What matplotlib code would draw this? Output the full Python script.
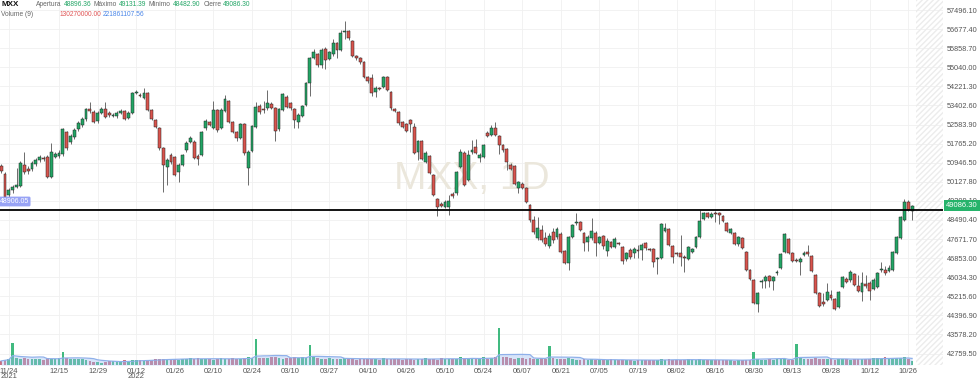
import numpy as np
import pandas as pd
import matplotlib
matplotlib.use("Agg")
import matplotlib.pyplot as plt

plt.rcParams['font.family'] = ['Liberation Sans', 'DejaVu Sans']

# velas diarias MXX
opens = [
    50807, 50463, 49563, 49777, 49906, 49949, 50850, 50678, 50678, 50892,
    51064, 51150, 51193, 50335, 51193, 51236, 51321, 52265, 51836, 52051,
    52394, 52566, 52823, 53252, 53123, 52737, 53080, 53252, 53080, 52952,
    52952, 53080, 53166, 52866, 53080, 53938, 53852, 53724, 53938, 53209,
    52780, 52437, 51579, 50764, 51278, 51193, 50549, 50850, 51493, 51836,
    51836, 51236, 51278, 52437, 52694, 52437, 53209, 52437, 53166, 53595,
    52694, 52265, 52008, 52608, 50721, 51450, 52480, 53381, 53252, 53295,
    53467, 53295, 52394, 53209, 53767, 53509, 53252, 52694, 52952, 53424,
    54367, 55440, 55611, 55140, 55826, 55397, 55611, 56083, 55783, 56555,
    56598, 56169, 55525, 55440, 55268, 54625, 54582, 53981, 54153, 54196,
    54625, 53981, 53252, 53123, 52694, 52608, 52780, 52480, 51407, 51879,
    50978, 51236, 50421, 49391, 49176, 49048, 49048, 49606, 49648, 50764,
    51364, 50206, 51407, 51622, 51150, 51193, 52222, 52137, 52437, 52094,
    51708, 51536, 50850, 50807, 49863, 50035, 49863, 49133, 48490, 47718,
    48061, 47718, 47375, 47975, 47761, 47889, 47160, 46645, 47761, 48362,
    48404, 47932, 47546, 47718, 47932, 47503, 47804, 47160, 47546, 47332,
    47503, 47332, 46817, 47203, 47074, 47203, 47203, 47503, 47246, 47246,
    46817, 46860, 48018, 48104, 47375, 47074, 47074, 46903, 46817, 47117,
    47332, 47761, 48533, 48791, 48619, 48791, 48791, 48662, 48362, 47932,
    47932, 47461, 47718, 47117, 46345, 45916, 44886, 45830, 45873, 46088,
    45873, 46216, 46431, 47117, 47675, 47074, 46774, 46688, 46989, 47117,
    46946, 46131, 45358, 44972, 45058, 45273, 45101, 44758, 45616, 45959,
    45916, 46173, 45659, 45401, 45745, 45788, 45530, 45616, 46345, 46345,
    46302, 46345, 47074, 47718, 48490, 49262, 48896.36,
]
highs = [
    50892, 50549, 49863, 49992, 50721, 51021, 51407, 50807, 51021, 51150,
    51278, 51236, 51278, 51793, 51407, 51493, 52437, 52308, 52180, 52437,
    52737, 52909, 53295, 53552, 53209, 53166, 53338, 53552, 53166, 53080,
    53166, 53252, 53209, 53166, 53981, 54067, 53938, 54153, 53981, 53252,
    52823, 52480, 51622, 51150, 51364, 51236, 50935, 51321, 51879, 52094,
    51922, 51321, 52308, 52823, 52737, 53595, 53252, 53295, 53853, 53638,
    52737, 52308, 52651, 52651, 51493, 52566, 53552, 53467, 53595, 54067,
    53552, 53338, 53295, 53938, 53853, 53552, 53295, 53080, 53424, 54410,
    55483, 55826, 55654, 55869, 55912, 55740, 56255, 56126, 56641, 57027,
    56641, 56212, 55568, 55483, 55311, 54668, 54754, 54239, 54196, 54668,
    54668, 54024, 53295, 53166, 52737, 52651, 52823, 52651, 51922, 51922,
    51450, 51278, 50463, 49434, 49262, 49348, 49563, 49691, 50592, 51536,
    51450, 51493, 51922, 51965, 51364, 51750, 52308, 52566, 52694, 52137,
    51750, 51579, 50935, 50850, 50163, 50120, 49906, 49176, 48662, 48619,
    48275, 47975, 47932, 48147, 48190, 47975, 47203, 47804, 48319, 48791,
    48447, 47975, 47846, 48576, 48018, 47804, 47846, 47718, 47589, 47761,
    47546, 47375, 47117, 47289, 47332, 47418, 47503, 47546, 47289, 47289,
    46903, 48362, 48362, 48147, 47418, 47117, 47846, 46989, 47375, 47289,
    47804, 48919, 48833, 48833, 48833, 48876, 48833, 48705, 48404, 48147,
    47975, 47804, 47761, 47160, 46388, 45959, 45401, 45959, 46131, 46131,
    46088, 46345, 47074, 47932, 47718, 47117, 46860, 46903, 47160, 47418,
    46989, 46173, 45401, 45358, 45788, 45487, 45144, 45444, 46088, 46045,
    46345, 46216, 46131, 46259, 46131, 45873, 46002, 46259, 46688, 46517,
    46560, 47160, 47804, 48662, 49391, 49348, 49131.39,
]
lows = [
    50506, 49391, 49434, 49648, 49863, 49906, 50463, 50463, 50592, 50807,
    50978, 51021, 50292, 50292, 51150, 51150, 51236, 51493, 51750, 51965,
    52308, 52480, 52737, 53080, 52651, 52651, 53037, 52866, 52909, 52909,
    52866, 53037, 52780, 52823, 53037, 53895, 53767, 53681, 53166, 52780,
    52437, 51493, 49691, 49992, 50892, 50378, 50120, 50807, 51407, 51793,
    51107, 50850, 51236, 52351, 52523, 52394, 52265, 52394, 53123, 52651,
    52222, 51879, 51965, 51278, 49992, 51407, 52437, 53037, 53080, 53209,
    53252, 51879, 52308, 53166, 53295, 53209, 52437, 52437, 52909, 53381,
    53810, 55397, 55054, 55011, 54968, 55354, 55525, 55440, 55740, 56255,
    56212, 55483, 55354, 55182, 54582, 54367, 53810, 53767, 54067, 54153,
    54024, 53209, 53123, 52566, 52437, 52265, 52265, 51321, 51064, 51064,
    50935, 50463, 49520, 48662, 49048, 49005, 48705, 49434, 49563, 50721,
    49949, 50163, 51321, 51321, 50978, 51150, 52051, 52094, 52094, 51321,
    51407, 50635, 50635, 49992, 49648, 49820, 49219, 48404, 47889, 47632,
    47546, 47375, 47289, 47503, 47675, 47074, 46602, 46345, 47718, 48275,
    48018, 47160, 47160, 47632, 46946, 47461, 47246, 46946, 47289, 47289,
    47418, 46602, 46731, 46817, 46860, 46860, 46774, 47203, 47160, 46474,
    46173, 46817, 47975, 47375, 46645, 46946, 46517, 46259, 46774, 47074,
    47289, 47718, 48490, 48576, 48576, 48404, 48319, 48404, 47975, 47889,
    47418, 47375, 47246, 46302, 45916, 44886, 44543, 45573, 45573, 45616,
    45487, 46131, 46388, 47074, 47031, 46688, 46688, 46131, 46946, 46946,
    46259, 45316, 44758, 44800, 45015, 45058, 44629, 44715, 45573, 45788,
    45830, 45659, 45401, 45015, 45573, 45058, 45487, 45573, 46259, 46131,
    46259, 46302, 47031, 47675, 48447, 48876, 48482.90,
]
closes = [
    50592, 49477, 49777, 49906, 49992, 50935, 50549, 50592, 50935, 51064,
    51193, 51107, 50335, 51407, 51321, 51364, 52394, 51579, 52094, 52351,
    52651, 52823, 53252, 53166, 52694, 53080, 53252, 52909, 52995, 52995,
    53080, 53166, 52823, 53080, 53938, 53981, 53810, 53938, 53209, 52823,
    52480, 51579, 50850, 51064, 50978, 50421, 50850, 51278, 51793, 52008,
    51150, 51107, 52265, 52737, 52566, 53209, 52351, 53209, 53681, 52694,
    52265, 52008, 52608, 51364, 51407, 52523, 53338, 53123, 53209, 53509,
    53295, 52308, 53252, 53895, 53338, 53295, 52780, 52995, 53381, 54367,
    55440, 55697, 55140, 55783, 55354, 55697, 56083, 55783, 56512, 56598,
    56298, 55525, 55440, 55268, 54625, 54453, 53938, 54153, 54110, 54625,
    54067, 53295, 53166, 52651, 52480, 52308, 52608, 51364, 51879, 51107,
    51364, 50506, 49563, 49048, 49091, 49262, 49305, 49520, 50549, 51407,
    49992, 51278, 51493, 51364, 51278, 51708, 52094, 52437, 52137, 51708,
    51493, 50978, 50678, 50035, 50120, 49863, 49262, 48490, 47975, 48147,
    47632, 47461, 47804, 47632, 48104, 47117, 46645, 47761, 48275, 48404,
    48061, 47503, 47761, 48018, 47503, 47761, 47375, 47589, 47332, 47675,
    47461, 46731, 47074, 46903, 47246, 47160, 47418, 47289, 47203, 46688,
    46860, 48319, 48147, 47418, 46903, 47031, 46903, 46860, 47332, 47246,
    47761, 48447, 48791, 48619, 48748, 48748, 48705, 48447, 48018, 48104,
    47461, 47761, 47289, 46345, 45959, 44929, 45358, 45873, 46045, 45873,
    46045, 46259, 47031, 47889, 47074, 46731, 46731, 46817, 47074, 47031,
    46302, 45358, 44800, 44886, 45401, 45144, 44672, 45401, 46045, 45830,
    46259, 45702, 45444, 45788, 45659, 45444, 45916, 46216, 46360, 46216,
    46431, 47117, 47761, 48619, 49262, 48919, 49086.30,
]
# volumen en millones
volumes = [
    150, 200, 240, 800, 260, 230, 250, 220, 240, 210,
    230, 200, 260, 240, 220, 250, 470, 260, 240, 230,
    210, 230, 190, 150, 120, 100, 90, 110, 130, 140,
    150, 130, 170, 160, 180, 170, 180, 160, 190, 200,
    210, 220, 240, 230, 220, 210, 200, 230, 240, 250,
    220, 260, 240, 210, 230, 200, 220, 260, 230, 210,
    250, 230, 240, 260, 290, 270, 980, 250, 270, 260,
    280, 300, 260, 240, 270, 250, 290, 260, 280, 250,
    740, 280, 260, 240, 230, 250, 220, 240, 210, 260,
    250, 230, 200, 220, 240, 210, 230, 220, 200, 250,
    230, 210, 240, 220, 200, 230, 210, 190, 240, 220,
    250, 210, 230, 200, 260, 240, 220, 230, 210, 290,
    250, 230, 260, 240, 220, 280, 240, 260, 300, 1370,
    300, 280, 260, 240, 270, 250, 230, 260, 240, 220,
    250, 230, 700, 260, 240, 220, 230, 250, 210, 200,
    180, 210, 190, 230, 200, 180, 170, 190, 210, 180,
    170, 200, 180, 190, 160, 170, 180, 200, 170, 190,
    180, 210, 200, 230, 190, 180, 170, 200, 210, 190,
    180, 210, 200, 190, 170, 180, 200, 190, 180, 170,
    160, 180, 170, 190, 200, 470, 220, 200, 190, 210,
    200, 220, 230, 210, 200, 190, 780, 260, 240, 230,
    220, 250, 240, 230, 210, 220, 200, 230, 210, 220,
    200, 230, 210, 220, 240, 230, 250, 260, 240, 280,
    230, 260, 250, 270, 290, 240, 130,
]
# dias con barra de volumen verde aunque la vela sea roja
green_volume_days = [129, 195, 206]

x_ticks = [2, 15, 25, 35, 45, 55, 65, 75, 85, 95, 105, 115, 125, 135,
           145, 155, 165, 175, 185, 195, 205, 215, 225, 235]
x_labels = ['11/24', '12/15', '12/29', '01/12', '01/26', '02/10', '02/24',
            '03/10', '03/27', '04/10', '04/26', '05/10', '05/24', '06/07',
            '06/21', '07/05', '07/19', '08/02', '08/16', '08/30', '09/13',
            '09/28', '10/12', '10/26']
price_ticks = [42759.50, 43578.20, 44396.90, 45215.60, 46034.30, 46853.00,
               47671.70, 48490.40, 49309.10, 50127.80, 50946.50, 51765.20,
               52583.90, 53402.60, 54221.30, 55040.00, 55858.70, 56677.40,
               57496.10]
support = 48906.05

o = np.array(opens, float)
h = np.array(highs, float)
l = np.array(lows, float)
c = np.array(closes, float)
v = np.array(volumes, float)
idx = np.arange(len(c))
up = c >= o
vol_up = up.copy()
vol_up[green_volume_days] = True

GREEN = '#22a565'
RED = '#d9544d'

W, H = 980, 379
fig = plt.figure(figsize=(W / 100, H / 100), dpi=100)
ax = fig.add_axes([0, 14 / H, 943 / W, 365 / H])
for s in ax.spines.values():
    s.set_visible(False)

ax.set_xlim(-0.285, 244.0)
ax.set_ylim(57928 - 365 * 42.9, 57928)

# volumen (eje gemelo)
vax = ax.twinx()
vax.set_ylim(0, 365 * 37)
vax.set_yticks([])
for s in vax.spines.values():
    s.set_visible(False)
vol_ma = pd.Series(v).rolling(9, min_periods=1).mean()
vax.bar(idx, v, width=0.7, color=np.where(vol_up, '#1fae6a', '#c2566b'),
        alpha=0.85, lw=0, zorder=2)
vax.fill_between(idx, 0, vol_ma, color='#9dbdf0', alpha=0.4, lw=0, zorder=3)
vax.plot(idx, vol_ma, color='#8fb0ea', lw=0.9, zorder=3)

# ejes y rejilla
ax.set_axisbelow(True)
ax.set_xticks(x_ticks)
ax.set_xticklabels(x_labels)
ax.yaxis.tick_right()
ax.set_yticks(price_ticks)
ax.set_yticklabels([f'{p:.2f}' for p in price_ticks])
ax.tick_params(axis='x', length=0, pad=2, labelsize=5.5, labelcolor='#555555')
ax.tick_params(axis='y', length=0, pad=3, labelsize=5.3, labelcolor='#555555')
ax.grid(True, color='#f0f0f0', lw=0.6)

# marca de agua
ax.text(0.5005, 0.51, 'MXX, 1D', transform=ax.transAxes, ha='center',
        va='center', fontsize=28, color='#ebe7dc', zorder=1)

# zona futura rayada
ax.axvspan(236.9, 244.0, facecolor='none', edgecolor='#ececec',
           hatch='//////', lw=0, zorder=1)

# velas
wick_lo = np.minimum(l, np.minimum(o, c))
wick_hi = np.maximum(h, np.maximum(o, c))
ax.vlines(idx, wick_lo, wick_hi, color='#6b6b6b', lw=0.7, zorder=2)
body_lo = np.minimum(o, c)
body_h = np.maximum(np.abs(c - o), 25)
ax.bar(idx, body_h, bottom=body_lo, width=0.74,
       color=np.where(up, GREEN, RED), edgecolor='#222222', linewidth=0.35,
       zorder=3)

ax.axhline(support, color='black', lw=1.3, zorder=4)

# años bajo el eje
fig.text(8.8 / W, 1 - 377 / H, '2021', fontsize=5.5, color='#555555',
         ha='center', va='center')
fig.text(136 / W, 1 - 377 / H, '2022', fontsize=5.5, color='#555555',
         ha='center', va='center')

# etiquetas de precio
fig.text(14.5 / W, 1 - 201.5 / H, '48906.05', fontsize=5, color='white',
         ha='center', va='center',
         bbox=dict(boxstyle='round,pad=0.2', fc='#98a3f5', ec='none'))
fig.text(962 / W, 1 - 205.5 / H, '49086.30', fontsize=5.5, color='white',
         ha='center', va='center',
         bbox=dict(boxstyle='square,pad=0.3', fc='#26b36b', ec='none'))

# cabecera: textos seguidos, cada uno tras el anterior
renderer = fig.canvas.get_renderer()


def head_row(x0, y, items, size=4.8):
    x = x0
    for s, col, gap, weight in items:
        x += gap
        t = fig.text(x / W, 1 - y / H, s, fontsize=size, color=col,
                     ha='left', va='center', fontweight=weight)
        bb = t.get_window_extent(renderer)
        x += bb.width


GRAY = '#666666'
head_row(1, 4.5, [('MXX', '#111111', 0, 'bold')], size=5.8)
head_row(36, 4.7, [('Apertura', GRAY, 0, 'normal'),
                   ('48896.36', GREEN, 2, 'normal'),
                   ('Máximo', GRAY, 2, 'normal'),
                   ('49131.39', GREEN, 2, 'normal'),
                   ('Mínimo', GRAY, 3, 'normal'),
                   ('48482.90', GREEN, 2, 'normal'),
                   ('Cierre', GRAY, 3, 'normal'),
                   ('49086.30', GREEN, 2, 'normal')])
head_row(1, 15, [('Volume (9)', GRAY, 0, 'normal'),
                 ('130270000.00', '#e05555', 26, 'normal'),
                 ('221861107.56', '#4a86e8', 2, 'normal')])

fig.savefig('out.png', dpi=100)
